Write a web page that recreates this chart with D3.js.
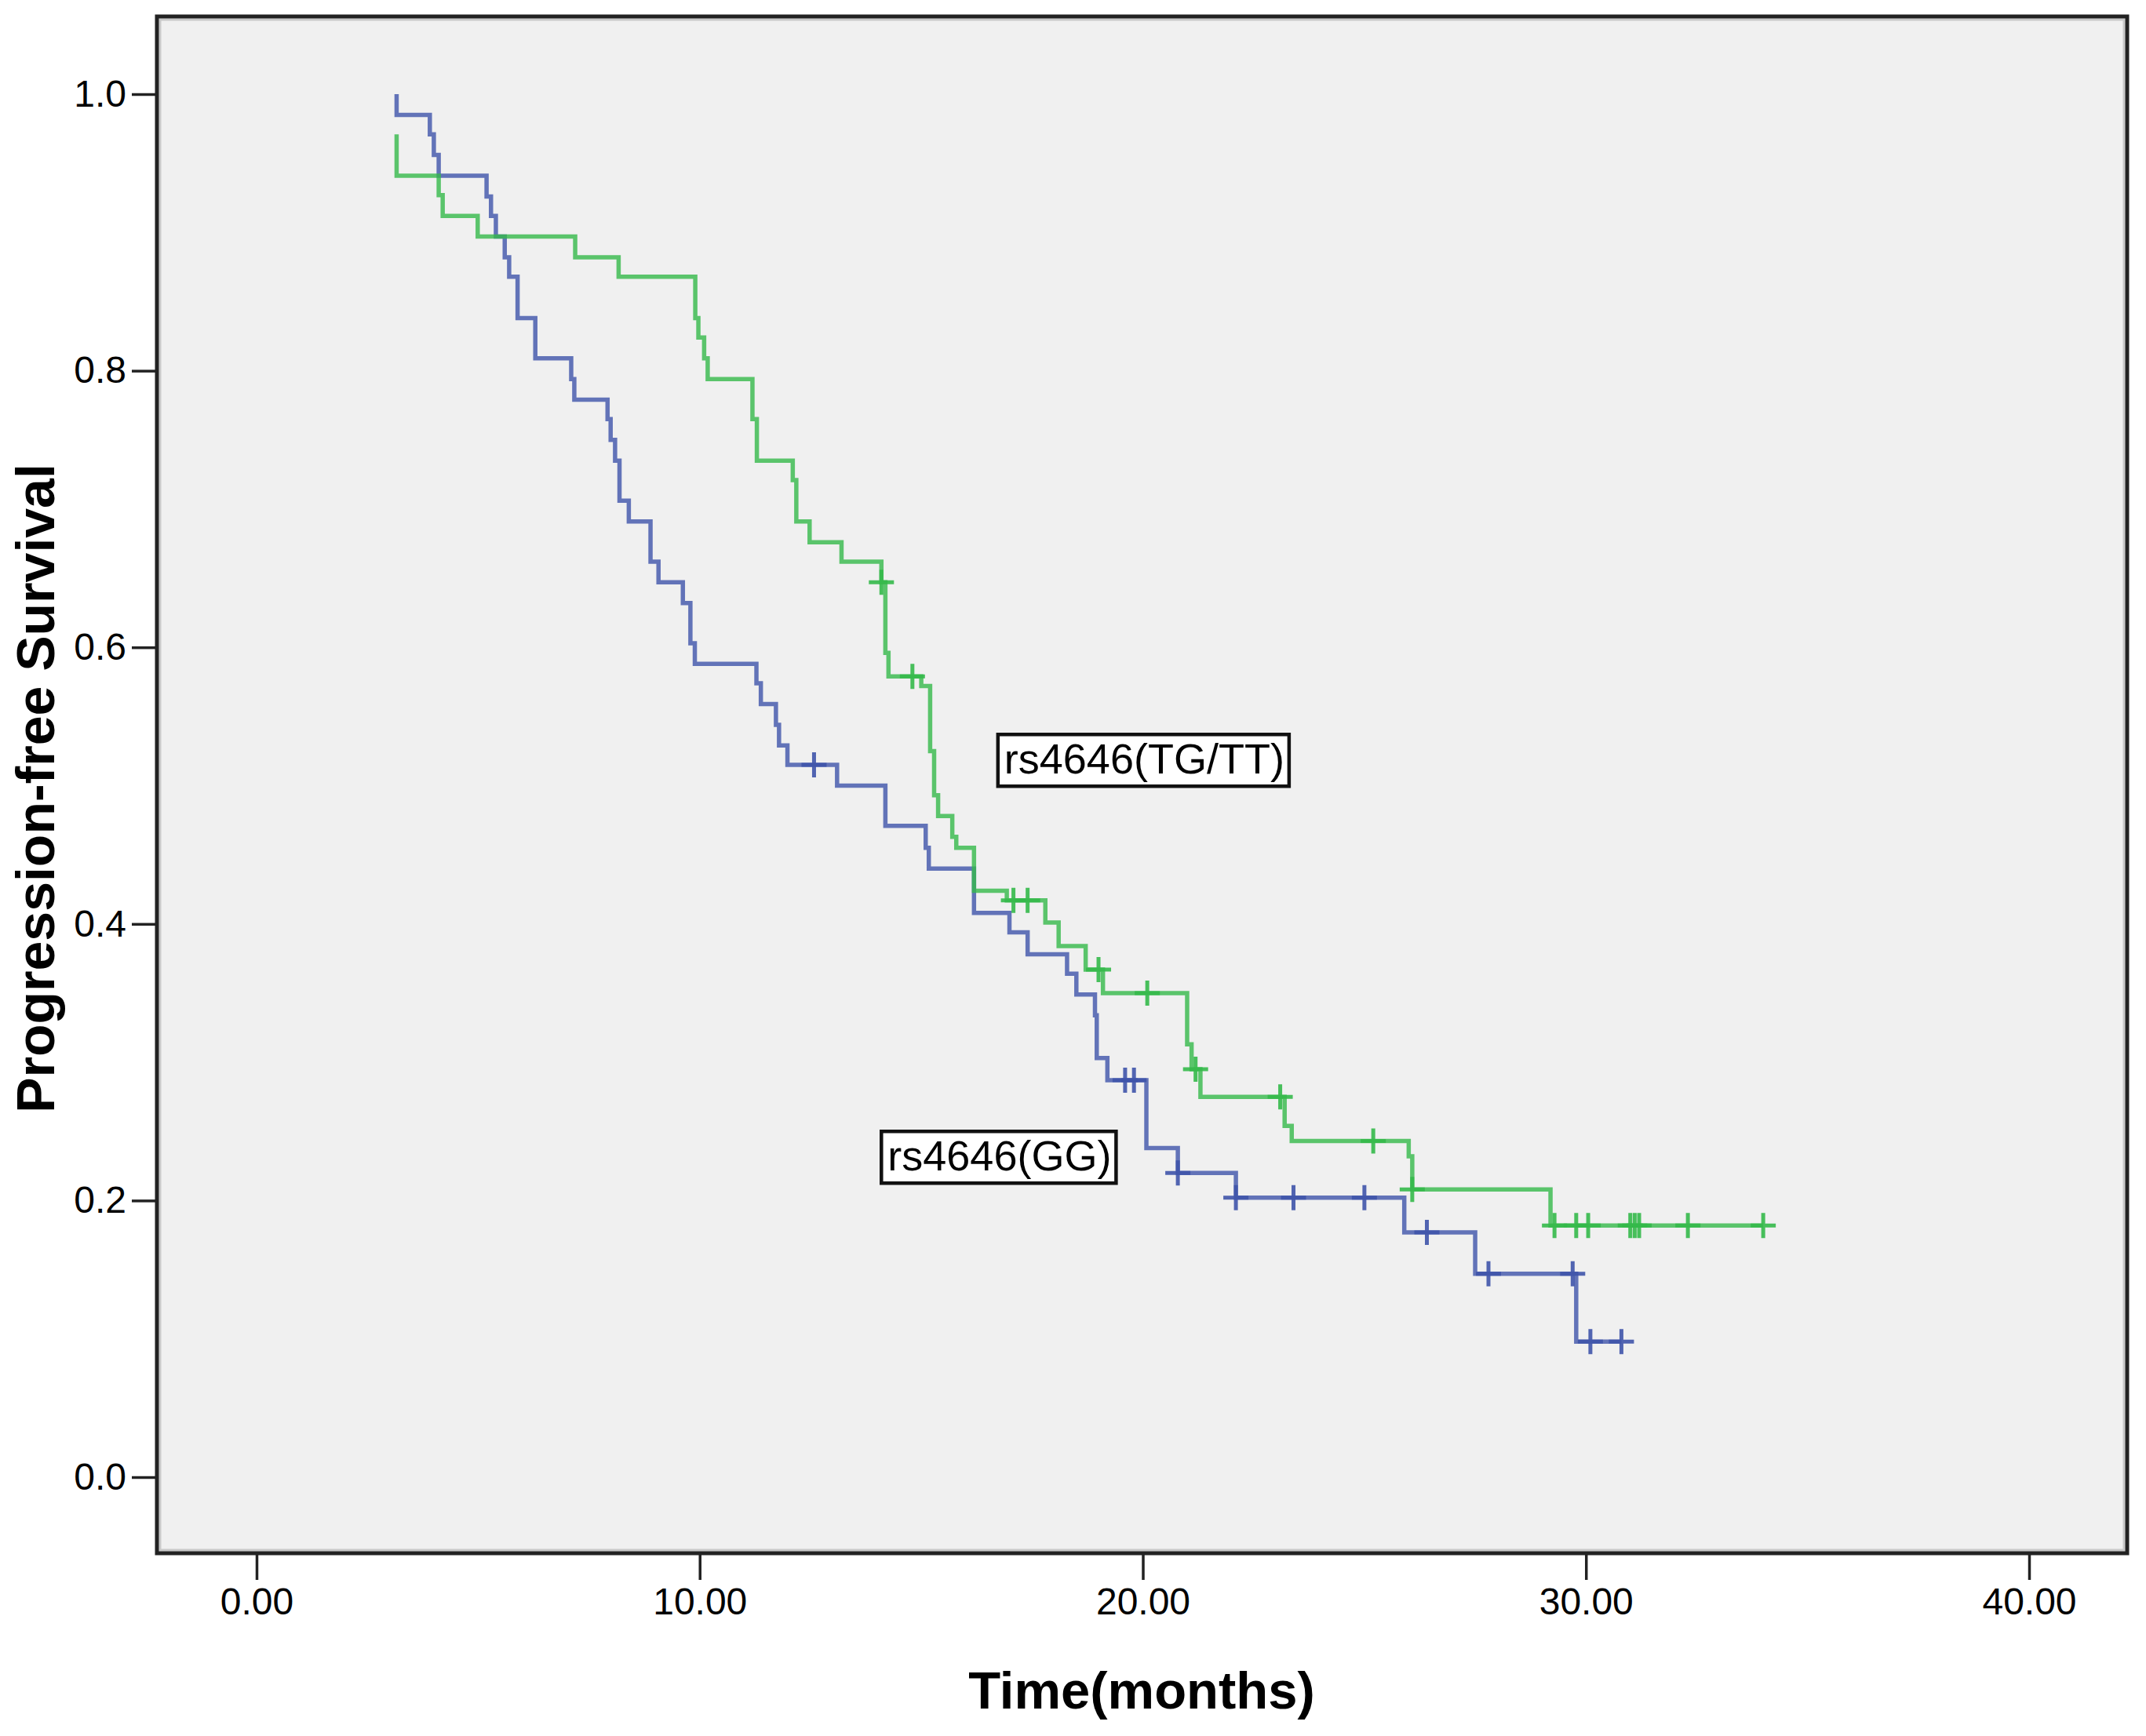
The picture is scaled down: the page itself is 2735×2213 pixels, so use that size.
<!DOCTYPE html>
<html lang="en">
<head>
<meta charset="UTF-8">
<title>Progression-free Survival by rs4646</title>
<script src="https://d3js.org/d3.v7.min.js"></script>
<style>
  body { margin: 0; background: #fff; }
  text { font-family: "Liberation Sans", Arial, sans-serif; }
</style>
</head>
<body>
<div id="chart"></div>
<script>

// Kaplan-Meier steps, [months, survival after the event]
const ggSteps = [
  [3.16, 1.0], [3.16, 0.985], [3.91, 0.971], [4.0, 0.956], [4.11, 0.941],
  [5.19, 0.926], [5.29, 0.912], [5.40, 0.897], [5.6, 0.882], [5.7, 0.868],
  [5.89, 0.838], [6.29, 0.809], [7.1, 0.794], [7.17, 0.779], [7.92, 0.765],
  [7.99, 0.750], [8.09, 0.735], [8.19, 0.706], [8.4, 0.691], [8.89, 0.662],
  [9.07, 0.647], [9.62, 0.632], [9.79, 0.603], [9.89, 0.588], [11.28, 0.574],
  [11.38, 0.559], [11.72, 0.544], [11.79, 0.529], [11.98, 0.515], [13.1, 0.500],
  [14.19, 0.471], [15.1, 0.455], [15.17, 0.440], [16.19, 0.408], [16.99, 0.394],
  [17.4, 0.378], [18.29, 0.364], [18.5, 0.349], [18.92, 0.334], [18.96, 0.303],
  [19.2, 0.287], [20.08, 0.238], [20.79, 0.220], [22.1, 0.202], [25.9, 0.177],
  [27.5, 0.147], [29.78, 0.098], [30.8, 0.098]
];
const ggCensored = [
  [12.58, 0.515], [19.6, 0.287], [19.8, 0.287], [20.79, 0.220], [22.1, 0.202],
  [23.4, 0.202], [25.0, 0.202], [26.41, 0.177], [27.8, 0.147], [29.7, 0.147],
  [30.1, 0.098], [30.8, 0.098]
];

const tgSteps = [
  [3.16, 0.971], [3.16, 0.941], [4.11, 0.927], [4.2, 0.912], [4.99, 0.897],
  [7.19, 0.882], [8.17, 0.868], [9.9, 0.838], [9.97, 0.824], [10.1, 0.809],
  [10.18, 0.794], [11.19, 0.765], [11.29, 0.735], [12.1, 0.721], [12.18, 0.691],
  [12.48, 0.676], [13.2, 0.662], [14.1, 0.647], [14.19, 0.596], [14.26, 0.579],
  [15.0, 0.572], [15.2, 0.525], [15.29, 0.493], [15.38, 0.478], [15.7, 0.463],
  [15.79, 0.455], [16.19, 0.424], [16.93, 0.417], [17.8, 0.401], [18.1, 0.384],
  [18.71, 0.367], [19.1, 0.350], [21.0, 0.313], [21.1, 0.295], [21.3, 0.275],
  [23.2, 0.254], [23.36, 0.243], [26.0, 0.232], [26.08, 0.208], [29.2, 0.182],
  [34.0, 0.182]
];
const tgCensored = [
  [14.1, 0.647], [14.8, 0.579], [17.08, 0.417], [17.4, 0.417], [19.0, 0.367],
  [20.1, 0.350], [21.19, 0.295], [23.1, 0.275], [25.2, 0.243], [26.08, 0.208],
  [29.29, 0.182], [29.78, 0.182], [30.05, 0.182], [31.0, 0.182], [31.1, 0.182],
  [31.2, 0.182], [32.3, 0.182], [34.0, 0.182]
];

const xTicks = [0, 10, 20, 30, 40];
const yTicks = [0, 0.2, 0.4, 0.6, 0.8, 1.0];

// group labels, placed at [months, survival] of the box's top-left corner
const groupLabels = [
  {text: "rs4646(TG/TT)", t: 16.73, s: 0.537},
  {text: "rs4646(GG)", t: 14.1, s: 0.250}
];

const width = 2735, height = 2213;
const frame = {left: 200, right: 2711, top: 21, bottom: 1980};

const svg = d3.select("#chart")
  .append("svg")
    .attr("width", width)
    .attr("height", height);

const x = d3.scaleLinear().domain([0, 40]).range([327, 2586]);
const y = d3.scaleLinear().domain([0, 1]).range([1883, 120]);

// plot background + frame
svg.append("rect")
    .attr("x", frame.left).attr("y", frame.top)
    .attr("width", frame.right - frame.left)
    .attr("height", frame.bottom - frame.top)
    .attr("fill", "#f0f0f0");
svg.append("rect")
    .attr("x", frame.left + 4).attr("y", frame.top + 4)
    .attr("width", frame.right - frame.left - 8)
    .attr("height", frame.bottom - frame.top - 8)
    .attr("fill", "none")
    .attr("stroke", "#c8c8c8")
    .attr("stroke-width", 3);
svg.append("rect")
    .attr("x", frame.left).attr("y", frame.top)
    .attr("width", frame.right - frame.left)
    .attr("height", frame.bottom - frame.top)
    .attr("fill", "none")
    .attr("stroke", "#222")
    .attr("stroke-width", 5);

// axes
const yAxis = svg.append("g")
    .attr("transform", `translate(${frame.left - 2},0)`)
    .call(d3.axisLeft(y).tickValues(yTicks).tickSize(30).tickPadding(7)
      .tickFormat(d3.format(".1f")));
const xAxis = svg.append("g")
    .attr("transform", `translate(0,${frame.bottom + 2})`)
    .call(d3.axisBottom(x).tickValues(xTicks).tickSize(32).tickPadding(10)
      .tickFormat(d3.format(".2f")));

[yAxis, xAxis].forEach(function(g) {
  g.select(".domain").remove();
  g.selectAll(".tick line").attr("stroke", "#222").attr("stroke-width", 3.5);
  g.selectAll(".tick text")
    .attr("font-size", 48)
    .attr("fill", "#000")
    .style("font-family", "'Liberation Sans', Arial, sans-serif");
});

// axis titles
svg.append("text")
    .attr("transform", "translate(69,1005) rotate(-90)")
    .attr("text-anchor", "middle")
    .attr("font-size", 68)
    .attr("font-weight", "bold")
    .text("Progression-free Survival");
svg.append("text")
    .attr("x", 1455).attr("y", 2178)
    .attr("text-anchor", "middle")
    .attr("font-size", 67)
    .attr("font-weight", "bold")
    .text("Time(months)");

// survival curves
const line = d3.line()
    .curve(d3.curveStepAfter)
    .x(function(d) { return x(d[0]); })
    .y(function(d) { return y(d[1]); });

const series = [
  {steps: ggSteps, censored: ggCensored, color: "#3f54aa"},
  {steps: tgSteps, censored: tgCensored, color: "#34b94a"}
];

series.forEach(function(sr) {
  svg.append("path")
      .datum(sr.steps)
      .attr("fill", "none")
      .attr("stroke", sr.color)
      .attr("stroke-width", 5.5)
      .attr("stroke-opacity", 0.8)
      .attr("d", line);

  const arm = 16;
  svg.append("g").selectAll("path")
    .data(sr.censored)
    .join("path")
      .attr("fill", "none")
      .attr("stroke", sr.color)
      .attr("stroke-width", 5)
      .attr("stroke-opacity", 0.9)
      .attr("d", function(d) {
        const cx = x(d[0]), cy = y(d[1]);
        return `M${cx - arm},${cy}H${cx + arm}M${cx},${cy - arm}V${cy + arm}`;
      });
});

// group label boxes
groupLabels.forEach(function(lb) {
  const g = svg.append("g")
      .attr("transform", `translate(${x(lb.t)},${y(lb.s)})`);
  const box = g.append("rect")
      .attr("fill", "#fff")
      .attr("stroke", "#111")
      .attr("stroke-width", 4.5);
  const txt = g.append("text")
      .attr("x", 8).attr("y", 50)
      .attr("font-size", 54)
      .attr("fill", "#000")
      .text(lb.text);
  const bb = txt.node().getBBox();
  box.attr("width", bb.width + 14).attr("height", 66);
});

</script>
</body>
</html>
